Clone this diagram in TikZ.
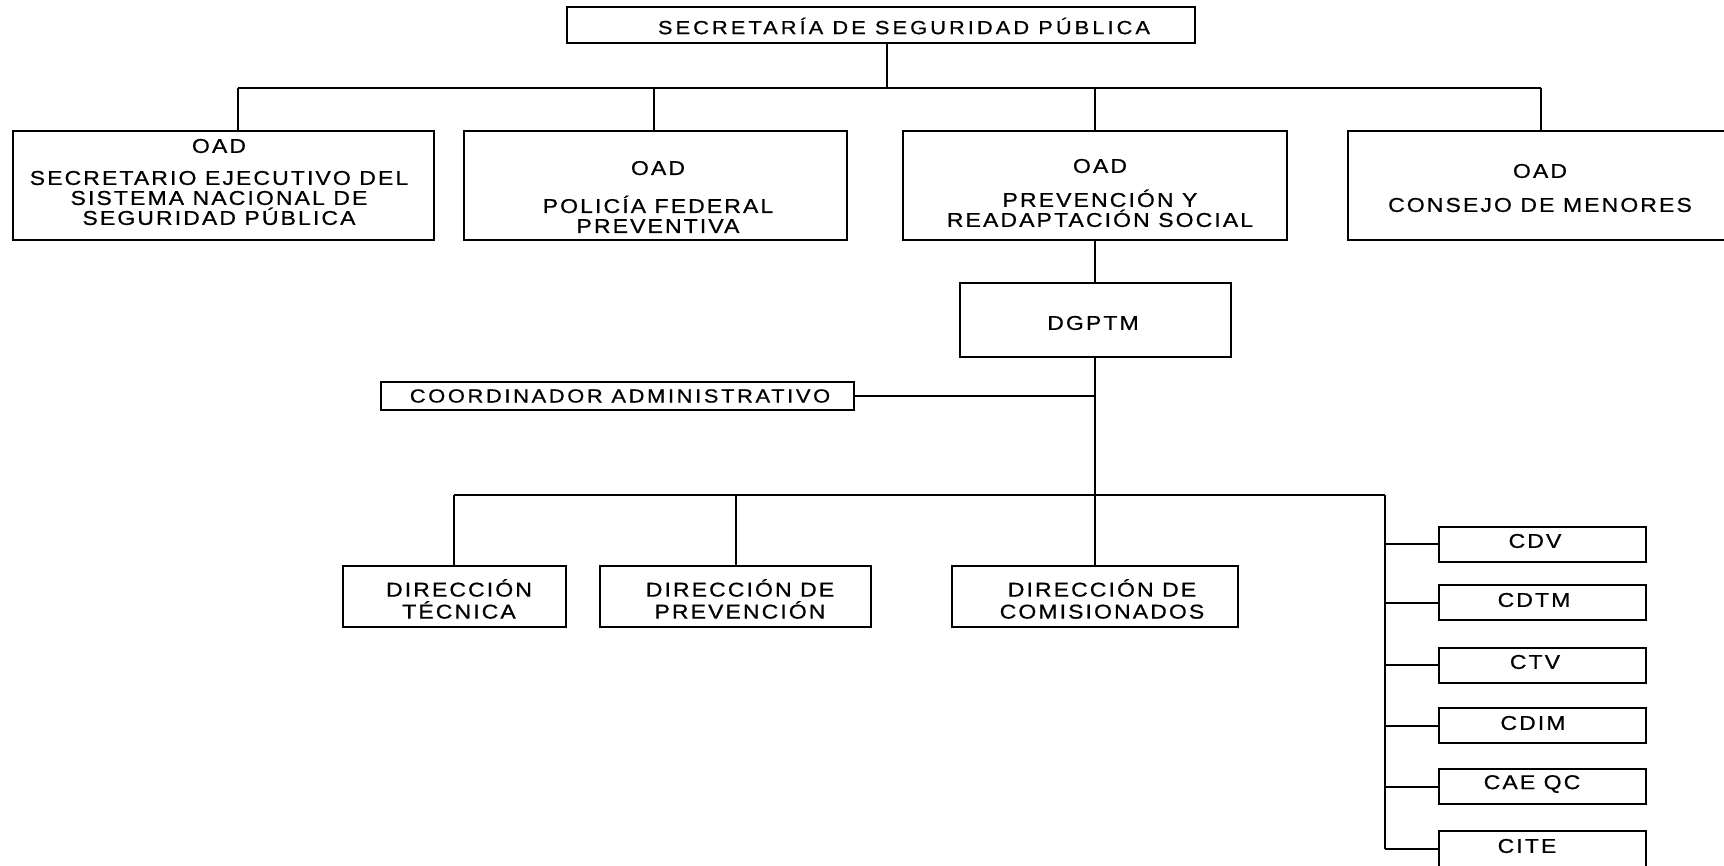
\documentclass[tikz,border=0pt]{standalone}
\usepackage{fontspec}
\setmainfont{Liberation Sans}
\newfontfamily\lsfont[LetterSpace=10.5, FakeStretch=1.15, FakeBold=0.7]{Liberation Sans}
\newfontfamily\lswide[LetterSpace=14, FakeStretch=1.15, FakeBold=0.7]{Liberation Sans}
\newfontfamily\lstitle[LetterSpace=16, FakeStretch=1.15, FakeBold=0.7]{Liberation Sans}
\tikzset{
  orgbox/.style={draw=black, line width=2pt, fill=white, inner sep=0pt},
  conn/.style={draw=black, line width=2pt},
  lbl/.style={font=\lsfont\fontsize{20}{20}\selectfont, align=center, inner sep=0pt, text=black},
  lblw/.style={font=\lswide\fontsize{19}{19}\selectfont, align=center, inner sep=0pt, text=black},
  lblt/.style={font=\lstitle\fontsize{19}{19}\selectfont, align=center, inner sep=0pt, text=black}
}
\begin{document}
\begin{tikzpicture}[x=1pt,y=-1pt]
\clip (0,0) rectangle (1724,865);
\fill[white] (0,0) rectangle (1724,865);

% top
\node[orgbox, minimum width=628pt, minimum height=36pt] (T) at (881,25) {};
\node[lblt] (Tt) at (904,26) {SECRETARÍA DE SEGURIDAD PÚBLICA};

% second level boxes
\node[orgbox, minimum width=421pt, minimum height=109pt] (B1) at (223.5,185.5) {};
\node[orgbox, minimum width=383pt, minimum height=109pt] (B2) at (655.5,185.5) {};
\node[orgbox, minimum width=384pt, minimum height=109pt] (B3) at (1095,185.5) {};
\node[orgbox, minimum width=386pt, minimum height=109pt] (B4) at (1541,185.5) {};

\node[lbl] (B1t) at (219,182) {OAD\\[12pt]SECRETARIO EJECUTIVO DEL\\SISTEMA NACIONAL DE\\SEGURIDAD PÚBLICA};
\node[lbl] (B2t) at (658,197) {OAD\\[18pt]POLICÍA FEDERAL\\PREVENTIVA};
\node[lbl] (B3t) at (1100,193) {OAD\\[14pt]PREVENCIÓN Y\\READAPTACIÓN SOCIAL};
\node[lbl] (B4t) at (1540,188) {OAD\\[14pt]CONSEJO DE MENORES};

% junctions of top bus
\coordinate (j0) at (887,88);
\coordinate (s1) at (238,88);
\coordinate (s2) at (654,88);
\coordinate (s4) at (1541,88);

\draw[conn] (j0 |- T.south) -- (j0);
\draw[conn] (s1) -- (s4);
\draw[conn, line width=2.8pt] (s2) -- (j0);
\draw[conn] (s1) -- (s1 |- B1.north);
\draw[conn] (s2) -- (s2 |- B2.north);
\draw[conn] (B3.north |- j0) -- (B3.north);
\draw[conn] (s4) -- (B4.north);

% DGPTM
\node[orgbox, minimum width=271pt, minimum height=74pt] (D) at (1095,320) {};
\node[lbl] (Dt) at (1093,323) {DGPTM};
\draw[conn] (B3.south) -- (D.north);

% coordinador
\node[orgbox, minimum width=473pt, minimum height=28pt] (C) at (617.5,396) {};
\node[lblw] (Ct) at (620,396) {COORDINADOR ADMINISTRATIVO};

% lower bus
\coordinate (bus) at (1095,495);
\coordinate (bl) at (454,495);
\coordinate (br) at (1385,495);
\draw[conn] (D.south) -- (bus);
\draw[conn] (C.east) -- (C.east -| D.south);
\draw[conn] (bl) -- (br);

% direcciones
\node[orgbox, minimum width=223pt, minimum height=61pt] (DT) at (454.5,596.5) {};
\node[orgbox, minimum width=271pt, minimum height=61pt] (DP) at (735.5,596.5) {};
\node[orgbox, minimum width=286pt, minimum height=61pt] (DC) at (1095,596.5) {};
\node[lbl, font=\lsfont\fontsize{20}{22}\selectfont] (DTt) at (459,599) {DIRECCIÓN\\TÉCNICA};
\node[lbl, font=\lsfont\fontsize{20}{22}\selectfont] (DPt) at (740,599) {DIRECCIÓN DE\\PREVENCIÓN};
\node[lbl, font=\lsfont\fontsize{20}{22}\selectfont] (DCt) at (1102,599) {DIRECCIÓN DE\\COMISIONADOS};
\draw[conn] (bl) -- (bl |- DT.north);
\draw[conn] (DP.north |- bl) -- (DP.north);
\draw[conn] (bus) -- (DC.north);

% right column
\node[orgbox, minimum width=207pt, minimum height=35pt] (K1) at (1542.5,544) {};
\node[orgbox, minimum width=207pt, minimum height=35pt] (K2) at (1542.5,602.5) {};
\node[orgbox, minimum width=207pt, minimum height=35pt] (K3) at (1542.5,665) {};
\node[orgbox, minimum width=207pt, minimum height=35pt] (K4) at (1542.5,725.5) {};
\node[orgbox, minimum width=207pt, minimum height=35pt] (K5) at (1542.5,786.5) {};
\node[orgbox, minimum width=207pt, minimum height=36pt] (K6) at (1542.5,849) {};
\node[lbl] (K1t) at (1535,541) {CDV};
\node[lbl] (K2t) at (1534,600) {CDTM};
\node[lbl] (K3t) at (1535,662) {CTV};
\node[lbl] (K4t) at (1533,723) {CDIM};
\node[lbl] (K5t) at (1532,784) {CAE QC};
\node[lbl] (K6t) at (1527,846) {CITE};

\coordinate (bend) at (1385,849);
\draw[conn] (br) -- (bend);
\foreach \k in {K1,K2,K3,K4,K5,K6}{
  \draw[conn] (\k.west -| br) -- (\k.west);
}
\end{tikzpicture}
\end{document}
